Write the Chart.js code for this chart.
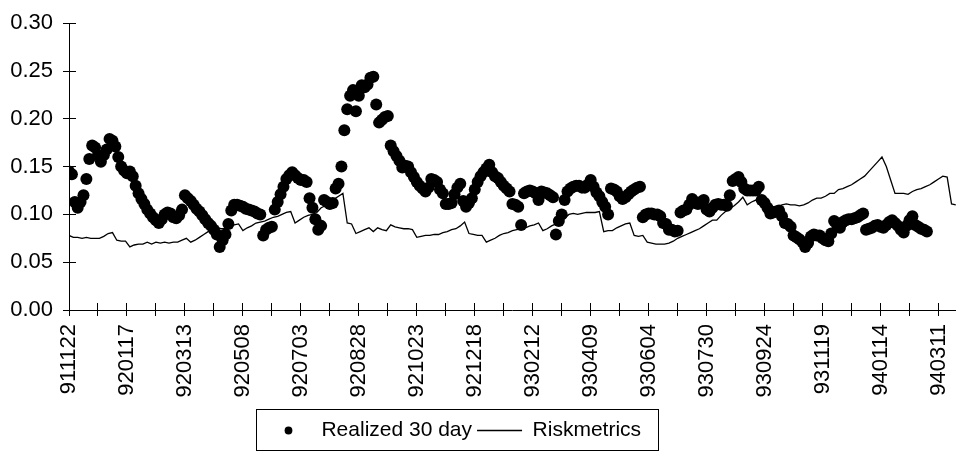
<!DOCTYPE html>
<html>
<head>
<meta charset="utf-8">
<script src="https://cdn.jsdelivr.net/npm/chart.js@4.4.1/dist/chart.umd.min.js"></script>
<style>
  html, body { margin: 0; padding: 0; background: #fff; }
  #wrap { position: relative; width: 973px; height: 451px; }
</style>
</head>
<body>
<div id="wrap"><canvas id="chart"></canvas></div>
<script>
// one label every 40 trading days, one tick every 20
const dateLabels = [
    '911122', '920117', '920313', '920508', '920703', '920828', '921023', '921218',
    '930212', '930409', '930604', '930730', '930924', '931119', '940114', '940311'
];
const DAYS = 612;
const REALIZED_STEP = 2; // trading days between realized samples
const RISK_STEP = 3;     // trading days between riskmetrics samples

const realized = [
    0.145, 0.142, 0.113, 0.107, 0.113, 0.120, 0.137, 0.158, 0.172, 0.170,
    0.162, 0.155, 0.162, 0.168, 0.179, 0.177, 0.171, 0.160, 0.150, 0.146,
    0.143, 0.145, 0.140, 0.130, 0.122, 0.116, 0.111, 0.105, 0.101, 0.097,
    0.094, 0.091, 0.095, 0.100, 0.102, 0.101, 0.097, 0.096, 0.099, 0.105,
    0.120, 0.117, 0.114, 0.110, 0.106, 0.103, 0.099, 0.095, 0.091, 0.088,
    0.084, 0.079, 0.066, 0.073, 0.079, 0.090, 0.104, 0.110, 0.110, 0.109,
    0.108, 0.106, 0.105, 0.104, 0.103, 0.101, 0.100, 0.078, 0.084, 0.086,
    0.087, 0.105, 0.113, 0.121, 0.129, 0.137, 0.141, 0.144, 0.141, 0.138,
    0.136, 0.136, 0.134, 0.117, 0.107, 0.095, 0.084, 0.088, 0.115, 0.113,
    0.111, 0.112, 0.127, 0.132, 0.150, 0.188, 0.210, 0.224, 0.230, 0.208,
    0.224, 0.235, 0.233, 0.236, 0.243, 0.244, 0.215, 0.196, 0.199, 0.202,
    0.203, 0.172, 0.166, 0.161, 0.156, 0.149, 0.151, 0.150, 0.144, 0.139,
    0.134, 0.130, 0.127, 0.124, 0.128, 0.137, 0.136, 0.134, 0.126, 0.122,
    0.111, 0.111, 0.112, 0.121, 0.128, 0.132, 0.114, 0.108, 0.112, 0.117,
    0.126, 0.134, 0.140, 0.144, 0.148, 0.152, 0.144, 0.140, 0.138, 0.134,
    0.130, 0.127, 0.124, 0.111, 0.110, 0.108, 0.089, 0.122, 0.124, 0.125,
    0.124, 0.122, 0.115, 0.124, 0.123, 0.122, 0.120, 0.118, 0.079, 0.093,
    0.100, 0.115, 0.124, 0.127, 0.129, 0.130, 0.130, 0.128, 0.128, 0.131,
    0.136, 0.129, 0.123, 0.119, 0.113, 0.108, 0.100, 0.127, 0.126, 0.124,
    0.119, 0.116, 0.118, 0.121, 0.124, 0.126, 0.128, 0.129, 0.097, 0.100,
    0.101, 0.101, 0.100, 0.100, 0.098, 0.091, 0.090, 0.084, 0.084, 0.082,
    0.083, 0.102, 0.104, 0.105, 0.110, 0.116, 0.113, 0.111, 0.113, 0.115,
    0.105, 0.103, 0.107, 0.110, 0.111, 0.110, 0.110, 0.109, 0.120, 0.135,
    0.137, 0.139, 0.134, 0.127, 0.125, 0.125, 0.125, 0.125, 0.129, 0.115,
    0.112, 0.107, 0.101, 0.102, 0.103, 0.104, 0.098, 0.091, 0.090, 0.087,
    0.078, 0.076, 0.074, 0.071, 0.066, 0.070, 0.077, 0.079, 0.078, 0.078,
    0.075, 0.073, 0.072, 0.080, 0.093, 0.089, 0.086, 0.092, 0.094, 0.095,
    0.095, 0.096, 0.097, 0.099, 0.101, 0.084, 0.085, 0.086, 0.088, 0.089,
    0.087, 0.086, 0.089, 0.092, 0.094, 0.091, 0.088, 0.084, 0.081, 0.088,
    0.094, 0.098, 0.089, 0.087, 0.085, 0.084, 0.082
];

const riskmetrics = [
    0.078, 0.076, 0.076, 0.075, 0.076, 0.075, 0.075, 0.075, 0.077, 0.080,
    0.081, 0.073, 0.072, 0.072, 0.066, 0.068, 0.069, 0.069, 0.071, 0.069,
    0.071, 0.070, 0.071, 0.070, 0.071, 0.071, 0.073, 0.075, 0.071, 0.073,
    0.076, 0.079, 0.082, 0.085, 0.086, 0.085, 0.085, 0.087, 0.089, 0.090,
    0.083, 0.086, 0.088, 0.091, 0.092, 0.093, 0.095, 0.097, 0.098, 0.100,
    0.102, 0.103, 0.091, 0.094, 0.097, 0.099, 0.100, 0.102, 0.107, 0.109,
    0.112, 0.116, 0.119, 0.122, 0.091, 0.090, 0.080, 0.082, 0.084, 0.086,
    0.082, 0.086, 0.084, 0.083, 0.089, 0.087, 0.086, 0.085, 0.085, 0.084,
    0.076, 0.077, 0.078, 0.078, 0.079, 0.079, 0.081, 0.082, 0.084, 0.085,
    0.088, 0.092, 0.080, 0.079, 0.078, 0.078, 0.071, 0.073, 0.075, 0.078,
    0.080, 0.081, 0.083, 0.084, 0.085, 0.086, 0.088, 0.089, 0.091, 0.083,
    0.085, 0.088, 0.090, 0.093, 0.096, 0.100, 0.101, 0.100, 0.101, 0.102,
    0.102, 0.102, 0.103, 0.082, 0.083, 0.083, 0.086, 0.088, 0.090, 0.091,
    0.078, 0.077, 0.078, 0.071, 0.070, 0.069, 0.069, 0.069, 0.070, 0.072,
    0.075, 0.077, 0.079, 0.081, 0.083, 0.085, 0.088, 0.091, 0.094, 0.094,
    0.099, 0.103, 0.106, 0.109, 0.113, 0.118, 0.110, 0.113, 0.115, 0.113,
    0.102, 0.108, 0.108, 0.108, 0.110, 0.111, 0.110, 0.110, 0.109, 0.110,
    0.112, 0.115, 0.117, 0.117, 0.119, 0.122, 0.122, 0.126, 0.127, 0.129,
    0.131, 0.134, 0.137, 0.140, 0.145, 0.150, 0.155, 0.160, 0.150, 0.136,
    0.122, 0.122, 0.122, 0.121, 0.124, 0.126, 0.127, 0.129, 0.131, 0.134,
    0.137, 0.140, 0.139, 0.111, 0.110
];

Chart.defaults.font.family = "'Liberation Sans', Arial, sans-serif";
Chart.defaults.font.size = 22;
Chart.defaults.color = '#000';
Chart.defaults.animation = false;

const toPoints = ( values, step ) => values.map( ( v, i ) => ( { x: i * step, y: v } ) );
const crisp = ( px ) => Math.round( px - 0.5 ) + 0.5;

// round legend marker (pointStyleWidth would stretch a circle into an ellipse)
const dotMarker = document.createElement( 'canvas' );
dotMarker.width = 9;
dotMarker.height = 9;
{
    const c = dotMarker.getContext( '2d' );
    c.fillStyle = '#000';
    c.beginPath();
    c.arc( 4.5, 4.5, 3.9, 0, Math.PI * 2 );
    c.fill();
}

// excel-style ticks that cross the axis, plus the framed legend
const axisExtras = {
    id: 'axisExtras',
    afterLayout( chart ) {
        chart.legend.left -= 33;
        chart.legend.right -= 33;
    },
    afterDraw( chart ) {
        const { ctx, chartArea, scales } = chart;
        ctx.save();
        ctx.strokeStyle = '#000';
        ctx.lineWidth = 1;
        ctx.beginPath();
        scales.x.ticks.forEach( t => {
            const px = crisp( scales.x.getPixelForValue( t.value ) );
            ctx.moveTo( px, chartArea.bottom );
            ctx.lineTo( px, chartArea.bottom - 7 );
        } );
        scales.y.ticks.forEach( t => {
            const py = crisp( scales.y.getPixelForValue( t.value ) );
            ctx.moveTo( chartArea.left, py );
            ctx.lineTo( chartArea.left + 7, py );
        } );
        ctx.stroke();

        const boxes = chart.legend.legendHitBoxes;
        const first = boxes[ 0 ], last = boxes[ boxes.length - 1 ];
        const cy = first.top + first.height / 2;
        const l = first.left - 9, r = last.left + last.width + 18;
        ctx.strokeRect( crisp( l ), crisp( cy - 21 ), Math.round( r - l ), 41 );
        ctx.restore();
    }
};

new Chart( document.getElementById( 'chart' ), {
    type: 'scatter',
    data: {
        datasets: [ {
            label: 'Realized 30 day',
            data: toPoints( realized, REALIZED_STEP ),
            order: 1,
            pointStyle: 'circle',
            pointRadius: 6,
            pointHoverRadius: 6,
            pointBackgroundColor: '#000',
            backgroundColor: '#000',
            pointBorderWidth: 0
        }, {
            label: 'Riskmetrics',
            data: toPoints( riskmetrics, RISK_STEP ),
            order: 0,
            showLine: true,
            borderColor: '#000',
            borderWidth: 1.3,
            tension: 0,
            pointStyle: 'line',
            pointRadius: 0,
            pointHoverRadius: 0,
            pointBorderColor: '#000',
            pointBorderWidth: 1.3
        } ]
    },
    options: {
        responsive: true,
        maintainAspectRatio: false,
        events: [],
        layout: { padding: { top: 15, left: 0, right: 0, bottom: 0 } },
        plugins: {
            tooltip: { enabled: false },
            legend: {
                position: 'bottom',
                labels: {
                    usePointStyle: true,
                    pointStyleWidth: 45,
                    boxHeight: 5.5,
                    padding: 5,
                    color: '#000',
                    font: { size: 21 },
                    sort: ( a, b ) => a.datasetIndex - b.datasetIndex,
                    generateLabels: ( chart ) => {
                        const items = Chart.defaults.plugins.legend.labels.generateLabels( chart );
                        items.forEach( item => {
                            if ( item.datasetIndex === 0 ) item.pointStyle = dotMarker;
                        } );
                        return items;
                    }
                }
            }
        },
        scales: {
            x: {
                type: 'linear',
                min: 0,
                max: DAYS,
                afterFit: ( scale ) => { scale.height = 105; },
                border: { display: true, color: '#000', width: 1 },
                grid: { drawOnChartArea: false, drawTicks: true, tickLength: 6, color: '#000' },
                ticks: {
                    stepSize: 20,
                    includeBounds: false,
                    autoSkip: false,
                    minRotation: 90,
                    maxRotation: 90,
                    padding: 8,
                    color: '#000',
                    callback: ( v ) => v % 40 === 0 ? dateLabels[ v / 40 ] : ''
                }
            },
            y: {
                min: 0,
                max: 0.3,
                afterFit: ( scale ) => { scale.width = 69; },
                border: { display: true, color: '#000', width: 1 },
                grid: { drawOnChartArea: false, drawTicks: true, tickLength: 6, color: '#000' },
                ticks: {
                    stepSize: 0.05,
                    padding: 10,
                    color: '#000',
                    callback: ( v ) => v.toFixed( 2 )
                }
            }
        }
    },
    plugins: [ axisExtras ]
} );
</script>
</body>
</html>
